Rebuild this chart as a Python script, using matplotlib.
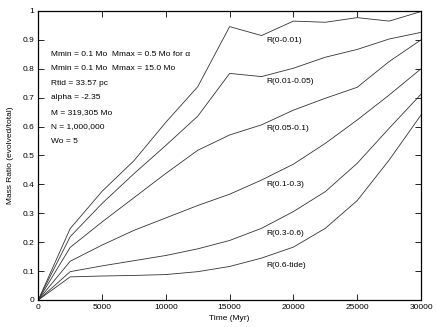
import matplotlib
matplotlib.use("Agg")
import matplotlib.pyplot as plt

plt.rcParams["font.family"] = ["Liberation Sans", "DejaVu Sans"]

# time in Myr
time_myr = [0, 2500, 5000, 7500, 10000, 12500, 15000, 17500, 20000, 22500, 25000, 27500, 30000]

# mass ratio (evolved/total) per radial shell
r_0_001 = [0, 0.247, 0.376, 0.482, 0.615, 0.738, 0.946, 0.915, 0.965, 0.961, 0.977, 0.965, 0.998]
r_001_005 = [0, 0.219, 0.334, 0.437, 0.535, 0.636, 0.784, 0.773, 0.802, 0.840, 0.867, 0.903, 0.926]
r_005_01 = [0, 0.182, 0.270, 0.354, 0.438, 0.518, 0.571, 0.606, 0.657, 0.698, 0.736, 0.825, 0.900]
r_01_03 = [0, 0.134, 0.190, 0.241, 0.284, 0.327, 0.366, 0.415, 0.470, 0.542, 0.623, 0.709, 0.800]
r_03_06 = [0, 0.098, 0.118, 0.136, 0.154, 0.177, 0.206, 0.248, 0.306, 0.375, 0.473, 0.594, 0.712]
r_06_tide = [0, 0.080, 0.083, 0.085, 0.088, 0.098, 0.116, 0.145, 0.183, 0.248, 0.344, 0.484, 0.640]

series = [r_0_001, r_001_005, r_005_01, r_01_03, r_03_06, r_06_tide]
series_labels = ["R(0-0.01)", "R(0.01-0.05)", "R(0.05-0.1)", "R(0.1-0.3)", "R(0.3-0.6)", "R(0.6-tide)"]
label_y = [0.897, 0.755, 0.594, 0.398, 0.231, 0.121]

info_lines = [
    "Mmin = 0.1 Mo  Mmax = 0.5 Mo for \u03b1",
    "Mmin = 0.1 Mo  Mmax = 15.0 Mo",
    "Rtid = 33.57 pc",
    "alpha = -2.35",
    "M = 319,305 Mo",
    "N = 1,000,000",
    "Wo = 5",
]
info_y = [0.85, 0.80, 0.75, 0.70, 0.65, 0.60, 0.55]

x_ticks = [0, 5000, 10000, 15000, 20000, 25000, 30000]
y_ticks = [0, 0.1, 0.2, 0.3, 0.4, 0.5, 0.6, 0.7, 0.8, 0.9, 1]
y_tick_labels = ["0", "0.1", "0.2", "0.3", "0.4", "0.5", "0.6", "0.7", "0.8", "0.9", "1"]

fs = 6

fig = plt.figure(figsize=(4.36, 3.27), dpi=100)
ax = fig.add_axes([0.0878, 0.0826, 0.8778, 0.8838])

for vals in series:
    ax.plot(time_myr, vals, color="#333333", lw=0.6)

for lab, y in zip(series_labels, label_y):
    ax.text(17900, y, lab, fontsize=fs, ha="left", va="center")

for line, y in zip(info_lines, info_y):
    ax.text(1000, y, line, fontsize=fs, ha="left", va="center")

ax.set_xlim(0, 30000)
ax.set_ylim(0, 1)
ax.set_xticks(x_ticks)
ax.set_xticklabels([str(t) for t in x_ticks])
ax.set_yticks(y_ticks)
ax.set_yticklabels(y_tick_labels)
ax.tick_params(direction="in", length=4, width=0.6, labelsize=fs,
               top=True, right=True, pad=3)
for sp in ax.spines.values():
    sp.set_linewidth(0.9)

ax.set_xlabel("Time (Myr)", fontsize=fs, labelpad=3)
ax.set_ylabel("Mass Ratio (evolved/total)", fontsize=fs, labelpad=6)

fig.savefig("out.png", dpi=100)
